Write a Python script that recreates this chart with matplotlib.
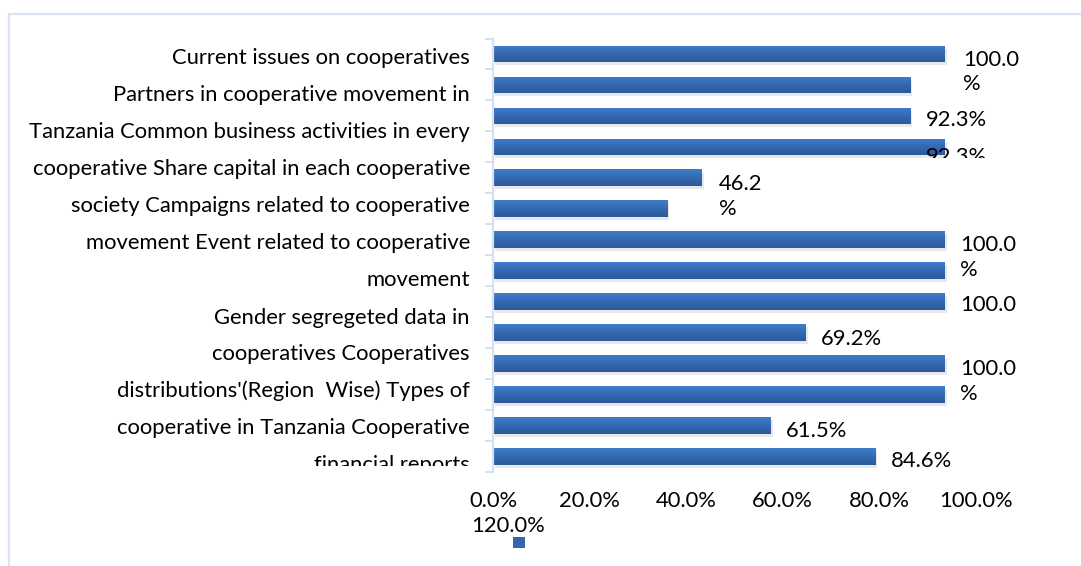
import numpy as np
import matplotlib.pyplot as plt
import matplotlib.patheffects as pe
from matplotlib.colors import LinearSegmentedColormap
from matplotlib.patches import Rectangle
from matplotlib.lines import Line2D
from matplotlib.transforms import Bbox

plt.rcParams['font.family'] = ['Lato', 'DejaVu Sans']

# share of items published (%), top bar first
values = [100.0, 92.3, 92.3, 100.0, 46.2, 38.5, 100.0, 100.0, 100.0, 69.2, 100.0, 100.0, 61.5, 84.6]

# category text as it wraps down the left side
label_lines_top = [
    "Current issues on cooperatives",
    "Partners in cooperative movement in",
    "Tanzania Common business activities in every",
    "cooperative Share capital in each cooperative",
    "society Campaigns related to cooperative",
    "movement Event related to cooperative",
    "movement",
]
label_lines_bottom = [
    "Gender segregeted data in",
    "cooperatives Cooperatives",
    "distributions'(Region  Wise) Types of",
    "cooperative in Tanzania Cooperative",
    "financial reports",
]

tick_values = [0, 20, 40, 60, 80, 100]
tick_overflow = 120

# bars that carry a value label and how the label is broken
labelled_bars = [0, 2, 1, 4, 6, 8, 9, 10, 12, 13]
label_style = ["wrap", "line", "line", "wrap", "wrap", "number", "line", "wrap", "line", "line"]

W, H = 1081, 566
FS = 15.8
LINE_GAP = 24


def fx(px):
    return px / W


def fy(py):
    return 1 - py / H


fig = plt.figure(figsize=(W / 100, H / 100), dpi=100)
fig.patch.set_facecolor("white")

# chart frame (top and left edges only are inside the image)
frame_col = "#d9e3f3"
fig.add_artist(Line2D([fx(9), 1], [fy(14), fy(14)], color=frame_col, lw=1.6))
fig.add_artist(Line2D([fx(9), fx(9)], [0, fy(14)], color=frame_col, lw=1.6))

ax_left, ax_top, ax_bottom = 493, 38.5, 472
px_per_pct = 4.52
ax = fig.add_axes([fx(ax_left), fy(ax_bottom), 120 * px_per_pct / W, (ax_bottom - ax_top) / H])

rows = np.arange(len(values))
bars = ax.barh(rows, values, height=0.54, color="#3466ad",
               path_effects=[pe.SimplePatchShadow(offset=(1.5, -2.2), shadow_rgbFace="#9a9a9a", alpha=0.22),
                             pe.Normal()])

# vertical gradient on every bar
cmap = LinearSegmentedColormap.from_list("barblue", ["#3f7ecb", "#3468b2", "#2c5a9a"])
grad = np.linspace(0, 1, 64).reshape(-1, 1)
for bar in bars:
    x0, y0, w, h = bar.get_x(), bar.get_y(), bar.get_width(), bar.get_height()
    im = ax.imshow(grad, cmap=cmap, extent=(x0, x0 + w, y0 + h, y0), aspect="auto",
                   zorder=bar.get_zorder() + 0.1, interpolation="bilinear")
    im.set_clip_path(bar)

ax.set_xlim(0, 120)
ax.set_ylim(len(values) - 0.5, -0.5)

axis_col = "#d5e0f1"
for side in ["top", "right", "bottom"]:
    ax.spines[side].set_visible(False)
ax.spines["left"].set_color(axis_col)
ax.spines["left"].set_linewidth(1.6)
ax.set_yticks(np.arange(-0.5, len(values), 1))
ax.set_yticklabels([])
ax.tick_params(axis="y", length=5.5, width=1.4, color=axis_col)
ax.tick_params(axis="x", bottom=False, labelbottom=False)

# value axis labels sit on their own, slightly wider spacing
tick_scale = 96.5 * 5 / (100 * px_per_pct)
sec = ax.secondary_xaxis("bottom", functions=(lambda x: x / tick_scale, lambda x: x * tick_scale))
sec.set_xticks(tick_values, [f"{t:.1f}%" for t in tick_values])
sec.spines["bottom"].set_visible(False)
sec.tick_params(length=0, pad=14, labelsize=FS)
ax.annotate(f"{tick_overflow:.1f}%", xy=(0, 0), xycoords=("data", "axes fraction"),
            xytext=(-22, -59.7), textcoords="offset pixels", ha="left", va="baseline", fontsize=FS)

# value labels
label_offsets = [(18, 12.5), (16, 10.5), (16, 78.5), (17, 13), (15, 12.5),
                 (15, 9.5), (15, 12.2), (15, 12), (15, 11.5), (15, 10.5)]
for idx, style, (dx, dy) in zip(labelled_bars, label_style, label_offsets):
    v = values[idx]
    if style == "wrap":
        txt = f"{v:.1f}\n%"
        dy += LINE_GAP
    elif style == "number":
        txt = f"{v:.1f}"
    else:
        txt = f"{v:.1f}%"
    t = ax.annotate(txt, xy=(v, idx), xytext=(dx, -dy), textcoords="offset pixels",
                    ha="left", va="baseline", fontsize=FS, linespacing=1.3,
                    annotation_clip=False)
    if idx == 1:
        t.set_clip_box(Bbox.from_extents(0, H - 158.3, W, H))
        t.set_clip_on(True)

# category text, clipped at the foot of the plot area
cat_clip = Bbox.from_extents(0, H - 466, W, H)
for k, line in enumerate(label_lines_top):
    t = fig.text(fx(470), fy(64.2 + 36.9 * k), line, ha="right", va="baseline", fontsize=FS)
    t.set_clip_box(cat_clip)
    t.set_clip_on(True)
for k, line in enumerate(label_lines_bottom):
    t = fig.text(fx(470), fy(323.5 + 36.9 * k), line, ha="right", va="baseline", fontsize=FS)
    t.set_clip_box(cat_clip)
    t.set_clip_on(True)

# legend swatch without a series name
fig.add_artist(Rectangle((fx(512.5), fy(547.7)), fx(12.5), 11 / H, transform=fig.transFigure,
                         facecolor="#3466ad", edgecolor="none"))

fig.savefig("out.png", dpi=100, facecolor="white")
